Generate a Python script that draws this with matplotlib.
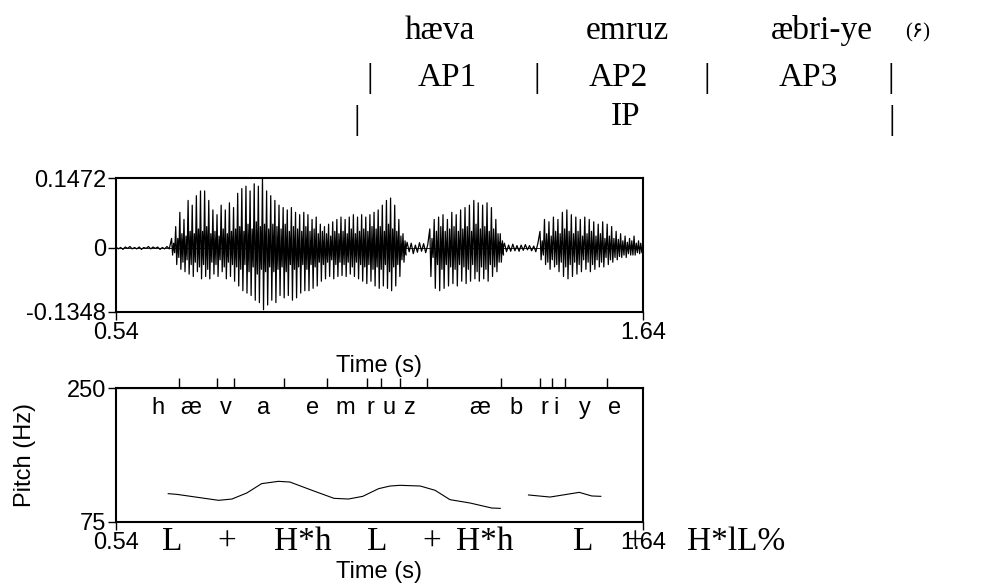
import matplotlib.pyplot as plt
import numpy as np

plt.rcParams['font.family'] = ['Liberation Sans', 'DejaVu Sans']

t_min, t_max = 0.54, 1.64
wave_lim = (-0.1348, 0.1472)
pitch_lim = (75, 250)

# waveform: quiet stretches, and voiced stretches with one
# top / bottom / dense-core amplitude per glottal pulse
quiet1_span = (0.54, 0.656)
quiet1 = [0.002, -0.002, 0.001, -0.003, 0.002, -0.001, 0.003, -0.002, 0.001, -0.002, 0.002, -0.003,
          0.001, -0.001, 0.003, -0.002, 0.002, -0.001, 0.002, -0.003, 0.001, -0.002, 0.003, -0.002]
voiced1_span = (0.656, 1.139)
voiced1_top = [.02, .045, .075, .06, .10, .09, .11, .12, .12, .10,
               .08, .07, .09, .08, .095, .085, .115, .125, .13, .12,
               .135, .13, .147, .12, .11, .10, .09, .085, .08, .085,
               .075, .07, .075, .07, .06, .065, .05, .045, .05, .055,
               .06, .065, .06, .065, .07, .065, .07, .065, .07, .075,
               .08, .09, .10, .105, .09, .06, .03]
voiced1_bot = [-.015, -.035, -.045, -.05, -.055, -.06, -.05, -.065, -.06, -.065,
               -.055, -.06, -.05, -.065, -.06, -.07, -.08, -.09, -.095, -.10,
               -.11, -.115, -.13, -.12, -.11, -.115, -.10, -.105, -.10, -.11,
               -.105, -.095, -.09, -.09, -.085, -.08, -.07, -.065, -.06, -.065,
               -.06, -.058, -.06, -.055, -.06, -.065, -.07, -.075, -.07, -.08,
               -.085, -.08, -.085, -.09, -.08, -.06, -.03]
voiced1_core = [.01, .02, .03, .025, .035, .03, .04, .035, .045, .03,
                .035, .025, .04, .03, .035, .04, .045, .035, .05, .04,
                .055, .045, .05, .04, .05, .045, .04, .05, .035, .045,
                .04, .035, .045, .035, .04, .03, .035, .03, .025, .035,
                .03, .035, .03, .04, .03, .035, .04, .035, .045, .04,
                .045, .035, .05, .04, .035, .025, .015]
quiet2_span = (1.139, 1.195)
quiet2 = [0.008, -0.01, 0.012, -0.008, 0.01, -0.012, 0.006, -0.009, 0.011, -0.007, 0.009, -0.01, 0.007]
voiced2_span = (1.195, 1.342)
voiced2_top = [.04, .06, .065, .07, .06, .075, .07, .08, .085, .09, .10, .095, .09, .095, .085, .06, .03]
voiced2_bot = [-.06, -.085, -.09, -.085, -.08, -.075, -.08, -.07, -.075, -.07, -.065, -.07, -.065,
               -.07, -.06, -.05, -.03]
voiced2_core = [.02, .035, .045, .035, .04, .045, .035, .04, .045, .035, .05, .04, .045, .035, .04, .03, .015]
quiet3_span = (1.342, 1.425)
quiet3 = [0.012, -0.009, 0.01, -0.008, 0.006, -0.007, 0.008, -0.006, 0.005, -0.007, 0.006, -0.005,
          0.007, -0.004, 0.005, -0.006, 0.004, -0.008, 0.01]
voiced3_span = (1.425, 1.64)
voiced3_top = [.035, .06, .055, .065, .06, .075, .08, .07, .065, .06, .065, .06,
               .055, .05, .055, .05, .045, .035, .03, .025, .02, .025, .015, .01]
voiced3_bot = [-.025, -.035, -.045, -.04, -.05, -.06, -.065, -.06, -.055, -.05, -.045, -.05,
               -.045, -.04, -.04, -.035, -.03, -.025, -.02, -.02, -.015, -.015, -.012, -.01]
voiced3_core = [.015, .03, .025, .035, .03, .04, .035, .03, .035, .025, .03, .035,
                .025, .03, .02, .025, .02, .018, .015, .012, .015, .01, .01, .008]

# pitch contour (Hz), two voiced pieces
pitch1_t = [0.649, 0.667, 0.754, 0.782, 0.813, 0.844, 0.879, 0.903, 0.949, 0.995, 1.025, 1.055,
            1.088, 1.112, 1.133, 1.175, 1.206, 1.237, 1.279, 1.324, 1.342]
pitch1_hz = [112.0, 111.1, 103.3, 105.0, 112.9, 125.1, 128.1, 127.2, 116.4, 105.9, 105.0, 108.5,
             118.5, 122.0, 122.9, 122.0, 116.4, 104.2, 99.8, 93.3, 92.8]
pitch2_t = [1.401, 1.446, 1.507, 1.533, 1.552]
pitch2_hz = [110.3, 107.6, 113.7, 109.0, 108.5]

# segment tier
seg_bounds = [0.672, 0.751, 0.786, 0.891, 0.980, 1.064, 1.093, 1.133, 1.189, 1.344, 1.424, 1.450,
              1.478, 1.565]
seg_labels = ["h", "æ", "v", "a", "e", "m", "r", "u", "z", "æ", "b", "r", "i", "y", "e"]
seg_times = [0.628, 0.697, 0.770, 0.847, 0.951, 1.018, 1.070, 1.110, 1.154, 1.300, 1.375, 1.434,
             1.459, 1.519, 1.580]

# tone labels under the pitch panel
tone_labels = ["L", "+", "H*h", "L", "+", "H*h", "L", "+", "H*lL%"]
tone_times = [0.657, 0.772, 0.930, 1.085, 1.200, 1.310, 1.515, 1.623, 1.835]

# words / prosodic phrases above
words = ["hæva", "emruz", "æbri-ye"]
word_x = [440, 627, 822]
ap_labels = ["AP1", "AP2", "AP3"]
ap_x = [447, 618, 808]
ap_bar_x = [370, 537, 707, 891]
ip_bar_x = [357, 892]
ip_x = 626


def build_wave():
    ts, vs = [], []
    parts = [(quiet1_span, quiet1, None, None),
             (voiced1_span, voiced1_top, voiced1_bot, voiced1_core),
             (quiet2_span, quiet2, None, None),
             (voiced2_span, voiced2_top, voiced2_bot, voiced2_core),
             (quiet3_span, quiet3, None, None),
             (voiced3_span, voiced3_top, voiced3_bot, voiced3_core)]
    for (a, b), top, bot, core in parts:
        if bot is None:
            ts.append(np.linspace(a, b, len(top), endpoint=False))
            vs.append(np.array(top))
            continue
        n = len(top)
        t = np.linspace(a, b, n)
        step = (b - a) / (n - 1) / 4
        core = np.array(core)
        tt = np.concatenate([t + k * step for k in range(4)])
        vv = np.concatenate([top, bot, core, -core])
        order = np.argsort(tt, kind="stable")
        ts.append(tt[order])
        vs.append(vv[order])
    return np.concatenate(ts), np.concatenate(vs)


W, H = 981, 586
fig = plt.figure(figsize=(W / 100, H / 100), dpi=100)

left, width = 116 / W, 527 / W
ax_w = fig.add_axes([left, 1 - 312 / H, width, 134 / H])
ax_p = fig.add_axes([left, 1 - 522 / H, width, 134 / H])

fs = 17
wt, wv = build_wave()
ax_w.plot(wt, wv, color="black", lw=0.9)
ax_w.axhline(0, color="black", lw=0.6)
ax_w.set_xlim(t_min, t_max)
ax_w.set_ylim(*wave_lim)
ax_w.set_yticks([wave_lim[0], 0, wave_lim[1]], ["-0.1348", "0", "0.1472"])
ax_w.set_xticks([t_min, t_max], ["0.54", "1.64"])
ax_w.set_xlabel("Time (s)", fontsize=fs, labelpad=8)

ax_p.plot(pitch1_t, pitch1_hz, color="black", lw=0.8)
ax_p.plot(pitch2_t, pitch2_hz, color="black", lw=0.8)
ax_p.set_xlim(t_min, t_max)
ax_p.set_ylim(*pitch_lim)
ax_p.set_yticks(list(pitch_lim), ["75", "250"])
ax_p.set_xticks([t_min, t_max], ["0.54", "1.64"])
ax_p.set_xlabel("Time (s)", fontsize=fs, labelpad=5)
ax_p.set_ylabel("Pitch (Hz)", fontsize=fs, labelpad=22)

top = ax_p.secondary_xaxis("top")
top.set_xticks(seg_bounds)
top.tick_params(direction="out", length=7, width=1, labeltop=False)

for ax in (ax_w, ax_p):
    for s in ax.spines.values():
        s.set_linewidth(1.5)
    ax.tick_params(direction="out", length=6, width=1, labelsize=fs, pad=1)

for lab, t in zip(seg_labels, seg_times):
    ax_p.text(t, 0.85, lab, transform=ax_p.get_xaxis_transform(), ha="center", va="center",
              fontsize=fs)

serif = ["Liberation Serif", "DejaVu Sans"]
tsz = 24
for lab, t in zip(tone_labels, tone_times):
    ax_p.text(t, -0.15, lab, transform=ax_p.get_xaxis_transform(), ha="center", va="center",
              fontsize=tsz, family=serif, clip_on=False)

for w, x in zip(words, word_x):
    fig.text(x / W, 1 - 31 / H, w, ha="center", va="center", fontsize=tsz, family=serif)
fig.text(918 / W, 1 - 33 / H, "(۶)", ha="center", va="center", fontsize=15, family=serif)
for lab, x in zip(ap_labels, ap_x):
    fig.text(x / W, 1 - 78 / H, lab, ha="center", va="center", fontsize=tsz, family=serif)
for x in ap_bar_x:
    fig.text(x / W, 1 - 79 / H, "|", ha="center", va="center", fontsize=tsz, family=serif)
for x in ip_bar_x:
    fig.text(x / W, 1 - 121 / H, "|", ha="center", va="center", fontsize=tsz, family=serif)
fig.text(ip_x / W, 1 - 117 / H, "IP", ha="center", va="center", fontsize=tsz, family=serif)

fig.savefig("out.png", dpi=100)
